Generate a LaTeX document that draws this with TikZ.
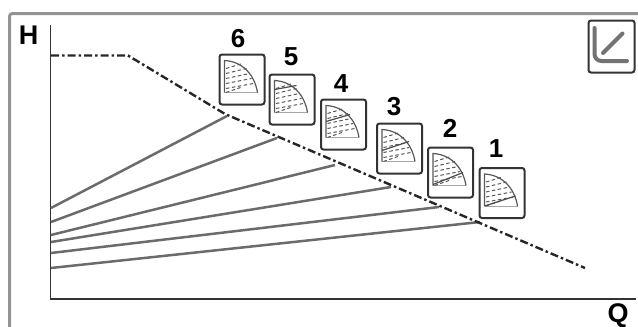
\documentclass[tikz,border=0pt]{standalone}
\usepackage{fontspec}
\setmainfont{Liberation Sans}
\tikzset{
  iconbox/.style={draw=black!80,line width=2pt,rounded corners=2.5pt,minimum width=45pt,minimum height=50pt,inner sep=0pt,fill=white},
  biglabel/.style={font=\bfseries\fontsize{27}{27}\selectfont,inner sep=0pt,text=black},
  numlabel/.style={font=\bfseries\fontsize{26}{26}\selectfont,inner sep=0pt,text=black},
  axisline/.style={draw=black!80,line width=1.8pt},
  pumpline/.style={draw=black!58,line width=2.5pt},
  limitline/.style={draw=black!85,line width=2.4pt,dash pattern=on 8pt off 3pt on 2.5pt off 3pt},
  hatch/.style={draw=black!65,line width=1pt,dash pattern=on 3.5pt off 2.5pt},
}
% #1 name, #2 left x, #3 top y, #4 number, #5 number position, #6 solid line start, #7 solid line end
\newcommand{\pumpicon}[7]{%
  \node[iconbox,anchor=north west] (#1) at (#2,#3) {};
  \node[numlabel] (#1n) at (#5) {#4};
  \begin{scope}[shift={(#2,#3)}]
    \draw[black!35,line width=1pt] (6,39) -- (39,39);
    \draw[black!65,line width=1.2pt] (6,39) -- (6,7) .. controls (24,8) and (36,21) .. (39,39);
    \foreach \yy/\xe in {13/24,18/28,23/31,28/33,33/35,37/22}{
      \draw[hatch] (7.5,\yy+2) -- (\xe,\yy-3);
    }
    \draw[black!70,line width=1.2pt] (#6) -- (#7);
  \end{scope}
}
\begin{document}
\begin{tikzpicture}[x=1pt,y=-1pt]
\useasboundingbox (0,0) rectangle (638,327);
\draw[draw=black!42,line width=3pt,rounded corners=3pt] (9.5,328) -- (9.5,13.5) -- (639,13.5);
\coordinate (axtop) at (50.5,25);
\coordinate (axorigin) at (50.5,299);
\coordinate (axright) at (636,299);
\draw[axisline] (axtop) -- (axorigin) -- (axright);
\node[biglabel] (hlabel) at (28.5,35.5) {H};
\node[biglabel] (qlabel) at (618,316) {Q};
% pump curves
\foreach \na/\ya/\xb/\yb in {a/208/227/116,b/222/277/138,c/235/335/165,d/242/391/187,e/253/439/207,f/268/480/222}{
  \coordinate (s\na) at (51,\ya);
  \coordinate (t\na) at (\xb,\yb);
  \draw[pumpline] (s\na) -- (t\na);
}
% limit line
\coordinate (l1) at (51,55.5);
\coordinate (l2) at (128,55.5);
\coordinate (l3) at (225,114);
\coordinate (l4) at (585,268);
\draw[limitline] (l1) -- (l2) -- (l3) -- (l4);
% icons
\pumpicon{i6}{218.5}{53.5}{6}{238,39}{6,7}{6,7}
\pumpicon{i5}{268.5}{73.5}{5}{291,57}{6,16}{28,12}
\pumpicon{i4}{320}{98.5}{4}{341,83.5}{6,23}{30,16}
\pumpicon{i3}{376}{122.5}{3}{394,107}{6,28}{33,19}
\pumpicon{i2}{427}{146.5}{2}{450,128}{6,38}{36,26}
\pumpicon{i1}{478.5}{167}{1}{496,148.5}{6,39}{37,29}
% mode icon
\node[iconbox,anchor=north west,minimum width=46pt,minimum height=52pt] (mode) at (587.5,19.5) {};
\coordinate (m1) at (594.5,28);
\coordinate (m2) at (627,61);
\coordinate (m3) at (603,53);
\coordinate (m4) at (622.5,33.5);
\draw[black!55,line width=4pt,line cap=round,rounded corners=7pt] (m1) -- (594.5,61) -- (m2);
\draw[black!55,line width=4pt,line cap=round] (m3) -- (m4);
\end{tikzpicture}
\end{document}
